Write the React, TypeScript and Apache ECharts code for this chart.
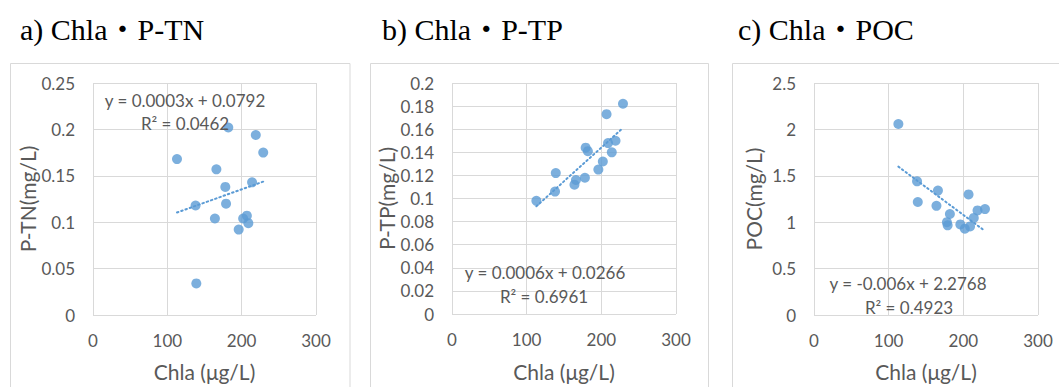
import React, { useEffect, useRef } from "react";
import * as echarts from "echarts";

// ---- data ----
const chla = [113, 138, 139, 164, 166, 178, 179, 182, 196, 202, 207, 209, 214, 219, 229];
const ptn = [0.168, 0.118, 0.034, 0.104, 0.157, 0.138, 0.12, 0.202, 0.092, 0.104, 0.107, 0.099, 0.143, 0.194, 0.175];
const ptp = [0.098, 0.106, 0.122, 0.112, 0.116, 0.118, 0.144, 0.141, 0.125, 0.132, 0.173, 0.148, 0.14, 0.15, 0.182];
const poc = [2.058, 1.44, 1.218, 1.176, 1.341, 1.0, 0.966, 1.088, 0.976, 0.93, 1.299, 0.955, 1.046, 1.127, 1.141];

const panelTitles = ["a) Chla・P-TN", "b) Chla・P-TP", "c) Chla・POC"];
const yNames = ["P-TN(mg/L)", "P-TP(mg/L)", "POC(mg/L)"];
const xName = "Chla (μg/L)";
const eqLabels = ["y = 0.0003x + 0.0792", "y = 0.0006x + 0.0266", "y = -0.006x + 2.2768"];
const r2Labels = ["R² = 0.0462", "R² = 0.6961", "R² = 0.4923"];
const yMax = [0.25, 0.2, 2.5];
const yInterval = [0.05, 0.02, 0.5];
const xMin = 0;
const xMax = 300;
const xInterval = 100;

const BLUE = "#5b9bd5";
const GRID = "#d9d9d9";
const TXT = "#595959";
const SANS = "Lato, 'Open Sans', sans-serif";
const SERIF = "'Liberation Serif', 'Noto Sans CJK JP', serif";

function linfit(xs: number[], ys: number[]) {
  const n = xs.length;
  const mx = xs.reduce((a, b) => a + b, 0) / n;
  const my = ys.reduce((a, b) => a + b, 0) / n;
  let sxy = 0, sxx = 0;
  for (let i = 0; i < n; i++) {
    sxy += (xs[i] - mx) * (ys[i] - my);
    sxx += (xs[i] - mx) * (xs[i] - mx);
  }
  const b = sxy / sxx;
  return { b, a: my - b * mx };
}

export default function App() {
  const ref = useRef<HTMLDivElement>(null);
  useEffect(() => {
    if (!ref.current) return;
    const chart = echarts.init(ref.current, null, { renderer: "svg" });
    const ySets = [ptn, ptp, poc];
    const grids = [
      { left: 93, top: 83, width: 223, height: 237 },
      { left: 452, top: 83, width: 224, height: 235 },
      { left: 814, top: 83, width: 224, height: 237 },
    ];
    const yGaps = [55, 54, 50];
    const xGaps = [46, 47, 46];
    const eqPos = [
      [185, 100, 185, 123],
      [545, 272, 544, 296],
      [908, 283, 909, 307],
    ];
    const titleX = [20, 382, 738];
    const boxes = [
      [10.5, 339.5],
      [370.5, 338],
      [732.5, 340],
    ];
    const xMinData = Math.min(...chla);
    const xMaxData = Math.max(...chla);
    const fmt = (v: number) => String(parseFloat(v.toFixed(4)));

    const series: any[] = [];
    ySets.forEach((ys, i) => {
      series.push({
        type: "scatter",
        xAxisIndex: i,
        yAxisIndex: i,
        symbolSize: 10,
        itemStyle: { color: BLUE },
        data: chla.map((x, k) => [x, ys[k]]),
        z: 3,
      });
      const { a, b } = linfit(chla, ys);
      series.push({
        type: "line",
        xAxisIndex: i,
        yAxisIndex: i,
        symbol: "none",
        lineStyle: { color: BLUE, width: 2, type: [1.5, 3], cap: "round" },
        data: [
          [xMinData, a + b * xMinData],
          [xMaxData, a + b * xMaxData],
        ],
        z: 2,
      });
    });

    const graphic: any[] = [];
    boxes.forEach(([x, w]) => {
      graphic.push({
        type: "rect",
        shape: { x, y: 63.5, width: w, height: 400 },
        style: { fill: "none", stroke: GRID, lineWidth: 1 },
        z: -10,
      });
    });
    panelTitles.forEach((t, i) => {
      graphic.push({
        type: "text",
        x: titleX[i],
        y: 44,
        style: { text: t, fill: "#000", font: `30px ${SERIF}`, textVerticalAlign: "bottom" },
      });
    });
    eqPos.forEach((p, i) => {
      graphic.push({
        type: "text",
        x: p[0],
        y: p[1],
        style: { text: eqLabels[i], fill: TXT, font: `17px ${SANS}`, textAlign: "center", textVerticalAlign: "middle" },
        z: 10,
      });
      graphic.push({
        type: "text",
        x: p[2],
        y: p[3],
        style: { text: r2Labels[i], fill: TXT, font: `17px ${SANS}`, textAlign: "center", textVerticalAlign: "middle" },
        z: 10,
      });
    });

    chart.setOption({
      animation: false,
      grid: grids.map((g) => ({ ...g, containLabel: false })),
      xAxis: grids.map((_, i) => ({
        type: "value",
        gridIndex: i,
        min: xMin,
        max: xMax,
        interval: xInterval,
        name: xName,
        nameLocation: "middle",
        nameGap: xGaps[i],
        nameTextStyle: { fontSize: 21, color: TXT, fontFamily: SANS },
        axisLine: { show: false },
        axisTick: { show: false },
        axisLabel: { fontSize: 17, color: TXT, fontFamily: SANS, margin: 17 },
        splitLine: { show: true, lineStyle: { color: GRID, width: 1 } },
      })),
      yAxis: grids.map((_, i) => ({
        type: "value",
        gridIndex: i,
        min: 0,
        max: yMax[i],
        interval: yInterval[i],
        name: yNames[i],
        nameLocation: "middle",
        nameGap: yGaps[i],
        nameTextStyle: { fontSize: 21, color: TXT, fontFamily: SANS },
        axisLine: { show: false },
        axisTick: { show: false },
        axisLabel: { fontSize: 17, color: TXT, fontFamily: SANS, margin: 18, formatter: fmt },
        splitLine: { show: true, lineStyle: { color: GRID, width: 1 } },
      })),
      series,
      graphic,
    });
    return () => chart.dispose();
  }, []);
  return (
    <div
      ref={ref}
      style={{ position: "fixed", left: 0, top: 0, width: 1059, height: 387, background: "#fff" }}
    />
  );
}
